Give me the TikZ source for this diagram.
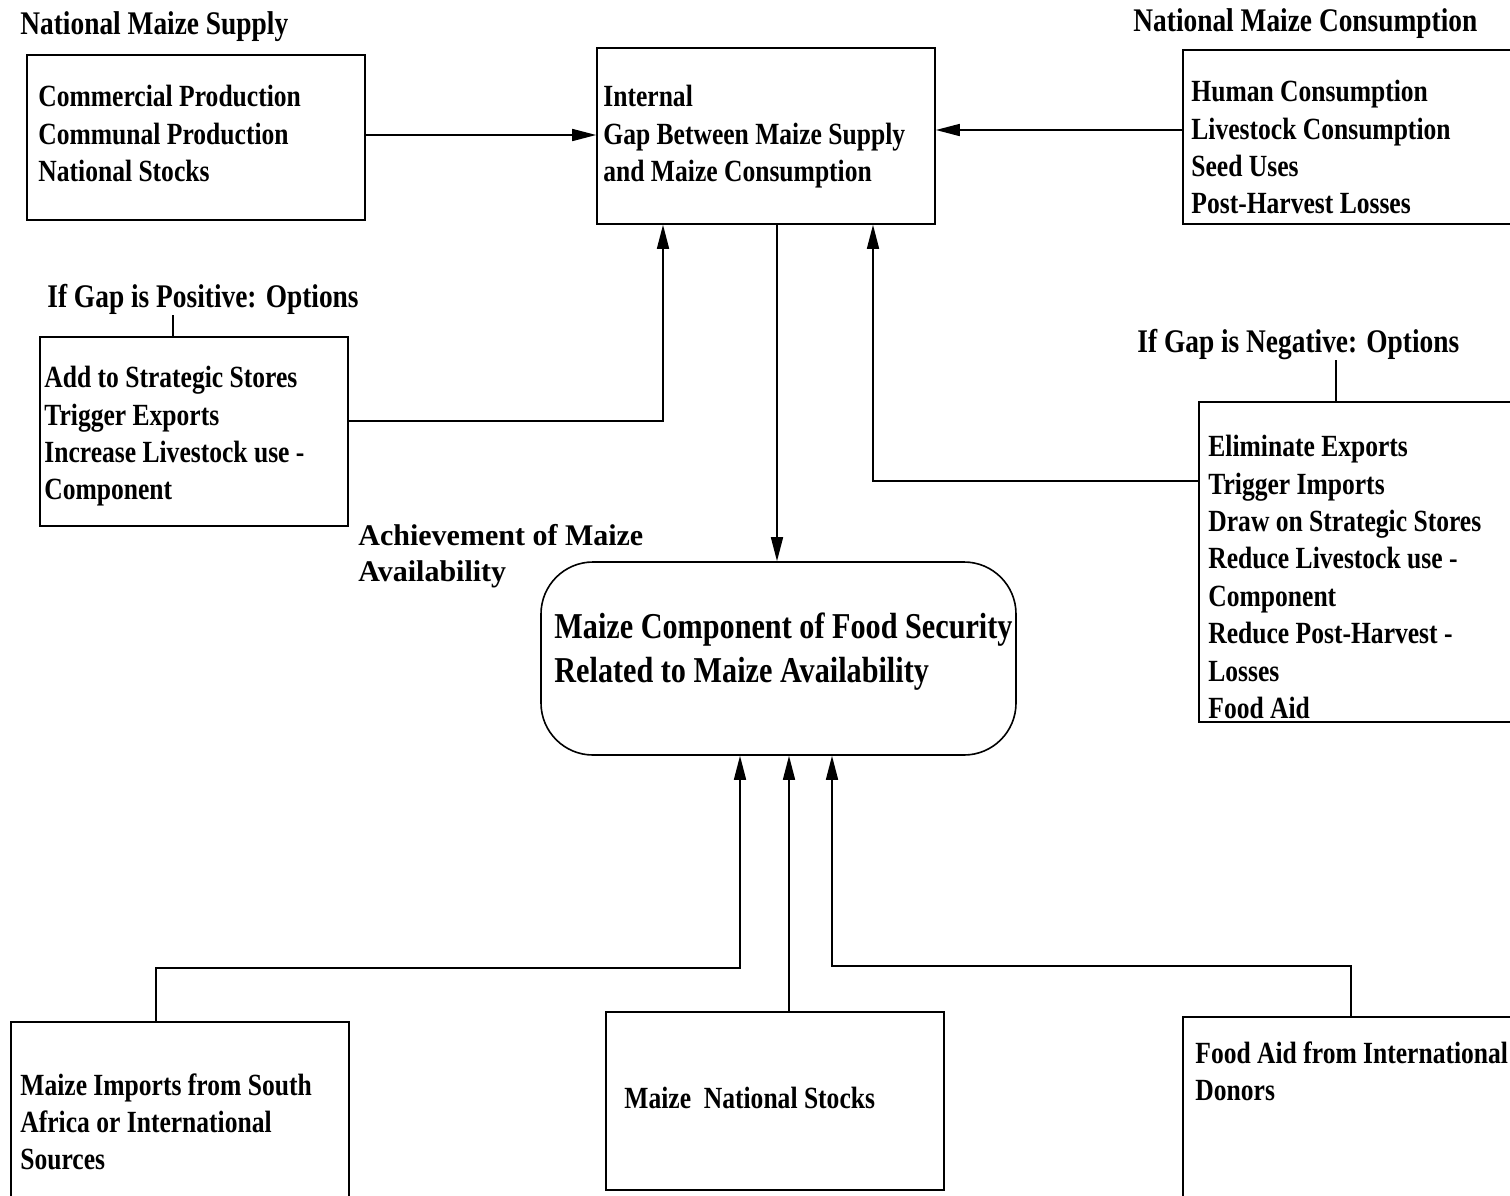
\documentclass[tikz,border=0pt]{standalone}
\usepackage{fontspec}
\setmainfont{Liberation Serif}
\newfontfamily\narrowfont{Liberation Serif}[FakeStretch=0.83]
\usetikzlibrary{arrows.meta,fit}

\tikzset{
  box/.style={draw, line width=0.8pt, inner sep=0pt},
  txt/.style={font=\narrowfont\bfseries\fontsize{15.4}{18.7}\selectfont, align=left, inner sep=0pt, anchor=north west},
  headtxt/.style={txt, font=\narrowfont\bfseries\fontsize{16.5}{18.7}\selectfont},
  bigtxt/.style={font=\narrowfont\bfseries\fontsize{18.2}{22}\selectfont, align=left, inner sep=0pt, anchor=north west},
  arr/.style={line width=0.8pt, -{Triangle[length=12pt,width=6pt]}},
}

\begin{document}
\begin{tikzpicture}[x=0.5pt,y=-0.5pt]
  \useasboundingbox (0,0) rectangle (1510,1195);

  % boxes
  \node[box, fit={(27,55) (365,220)}] (sup) {};
  \node[box, fit={(597,48) (935,224)}] (gap) {};
  \node[box, fit={(1183,50) (1530,224)}] (con) {};
  \node[box, fit={(40,337) (348,526)}] (pos) {};
  \node[box, fit={(1199,402) (1530,722)}] (neg) {};
  \node[box, rounded corners=26pt, fit={(541,562) (1016,755)}] (core) {};
  \node[box, fit={(11,1022) (349,1215)}] (imp) {};
  \node[box, fit={(606,1012) (944,1190)}] (stk) {};
  \node[box, fit={(1183,1017) (1530,1215)}] (aid) {};

  % headings
  \node[headtxt] (suptitle) at (20,11) {National Maize Supply};
  \node[headtxt] (contitle) at (1133,8) {National Maize Consumption};
  \node[headtxt] (postitle) at (47,284) {If Gap is Positive: Options};
  \node[headtxt] (negtitle) at (1137,329) {If Gap is Negative: Options};
  \node[anchor=north west, inner sep=0pt, align=left,
        font=\bfseries\fontsize{15}{18}\selectfont] (achieve) at (358,524)
        {Achievement of Maize\\Availability};

  % box texts
  \node[txt] (suptxt) at (38,85) {Commercial Production\\Communal Production\\National Stocks};
  \node[txt] (gaptxt) at (603,85) {Internal\\Gap Between Maize Supply\\and Maize Consumption};
  \node[txt] (contxt) at (1191,80) {Human Consumption\\Livestock Consumption\\Seed Uses\\Post-Harvest Losses};
  \node[txt] (postxt) at (44,366) {Add to Strategic Stores\\Trigger Exports\\Increase Livestock use -\\Component};
  \node[txt] (negtxt) at (1208,435) {Eliminate Exports\\Trigger Imports\\Draw on Strategic Stores\\Reduce Livestock use -\\Component\\Reduce Post-Harvest -\\Losses\\Food Aid};
  \node[bigtxt] (coretxt) at (554,612) {Maize Component of Food Security\\Related to Maize Availability};
  \node[txt] (imptxt) at (20,1073) {Maize Imports from South\\Africa or International\\Sources};
  \node[txt] (stktxt) at (624,1087) {Maize\ \ National Stocks};
  \node[txt] (aidtxt) at (1195,1041) {Food Aid from International\\Donors};

  % lanes
  \coordinate (supy) at (0,135);
  \coordinate (cony) at (0,130);
  \coordinate (posy) at (0,421);
  \coordinate (negy) at (0,481);
  \coordinate (posup) at (663,0);
  \coordinate (negup) at (873,0);
  \coordinate (down) at (777,0);
  \coordinate (posx) at (173,0);
  \coordinate (negx) at (1336,0);
  \coordinate (impx) at (156,0);
  \coordinate (aidx) at (1351,0);
  \coordinate (laneA) at (740,968);
  \coordinate (laneB) at (789,968);
  \coordinate (laneC) at (832,966);

  \draw[line width=0.8pt] (postitle.south -| posx) -- (pos.north -| posx);
  \draw[line width=0.8pt] (negtitle.south -| negx) -- (neg.north -| negx);

  \draw[arr] (sup.east |- supy) -- (gap.west |- supy);
  \draw[arr] (con.west |- cony) -- (gap.east |- cony);
  \draw[arr] (pos.east |- posy) -| (gap.south -| posup);
  \draw[arr] (neg.west |- negy) -| (gap.south -| negup);
  \draw[arr] (gap.south -| down) -- (core.north -| down);

  \draw[arr] (imp.north -| impx) |- (laneA) -- (laneA |- core.south);
  \draw[arr] (stk.north -| laneB) -- (laneB |- core.south);
  \draw[arr] (aid.north -| aidx) |- (laneC) -- (laneC |- core.south);
\end{tikzpicture}
\end{document}
